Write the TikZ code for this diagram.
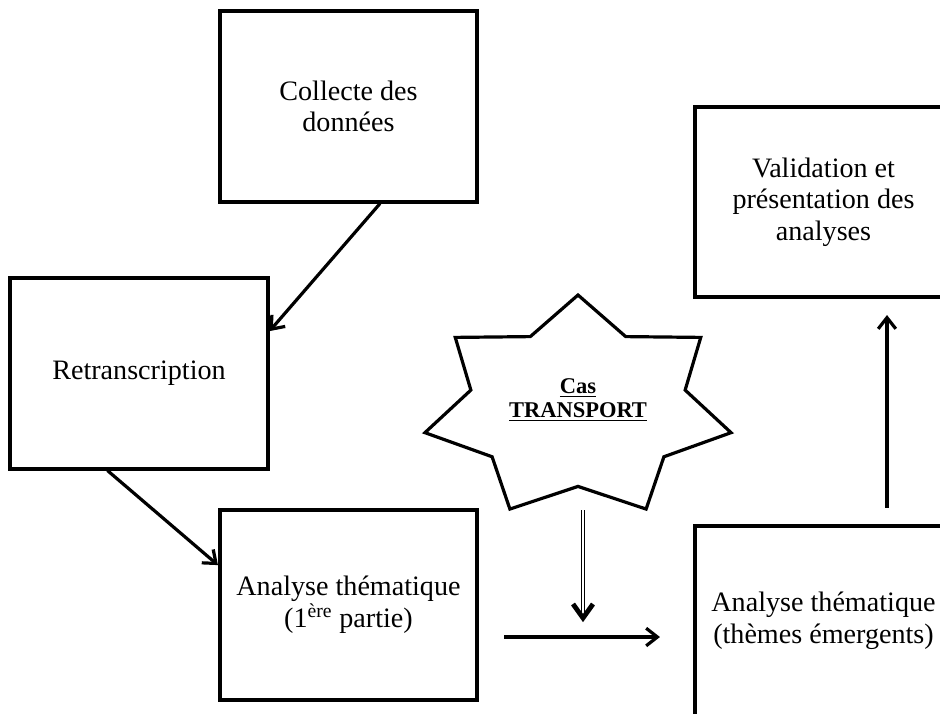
\documentclass[tikz,border=0pt]{standalone}
\usepackage{fontspec}
\setmainfont{Liberation Serif}
\usetikzlibrary{arrows.meta}
\begin{document}
\begin{tikzpicture}[
	x=0.025cm, y=-0.025cm,
	box/.style={draw, line width=0.1cm, minimum width=6.425cm, minimum height=4.75cm,
		align=center, font=\fontsize{20}{22.5}\selectfont},
	arr/.style={line width=0.08cm, -{Straight Barb[length=0.28cm,width=0.44cm]}},
	dblarr/.style={double, double distance=0.06cm, line width=0.03cm}]
\useasboundingbox (0,0) rectangle (940,713);
\clip (0,0) rectangle (940,713);
\node[box] (collecte) at (348.5,106.5) {Collecte des\\données};
\node[box] (retrans) at (139,373.5) {Retranscription};
\node[box] (analyse1) at (348.5,605) {Analyse thématique\\(1\textsuperscript{ère} partie)};
\node[box] (valid) at (823.5,202) {Validation et\\présentation des\\analyses};
\node[box] (analyse2) at (823.5,621) {Analyse thématique\\(thèmes émergents)};
\begin{scope}[shift={(578,407.6)}]
	\draw[line width=0.08cm, line join=miter] (-90:157 and 112.6)
		\foreach \i [evaluate=\i as \ang using -90+\i*180/7,
			evaluate=\i as \f using {mod(\i,2)==0 ? 1 : 0.7}] in {1,...,13}
		{ -- (\ang:{157*\f} and {112.6*\f}) } -- cycle;
\end{scope}
\node[font=\fontsize{16}{17}\selectfont\bfseries, align=center] (cas) at (578,400)
	{\underline{Cas}\\\underline{TRANSPORT}};
\coordinate (sbot) at (583,510);
\coordinate (stip) at (583,618);
\draw[arr] (collecte.-72) -- (retrans.18);
\draw[arr] (retrans.-108) -- (analyse1.163);
\draw[arr, shorten <=0.625cm, shorten >=0.825cm]
	([yshift=-0.8cm]analyse1.east) -- ([yshift=-0.8cm]analyse1.east -| analyse2.west);
\draw[arr, shorten <=0.4cm, shorten >=0.4cm] (analyse2.north -| 887,0) -- (valid.south -| 887,0);
\draw[dblarr] (sbot) -- ([yshift=0.05cm]stip);
\draw[line width=0.12cm] (stip) ++(-10,-14) -- (stip) -- ++(10,-14);
\end{tikzpicture}
\end{document}
